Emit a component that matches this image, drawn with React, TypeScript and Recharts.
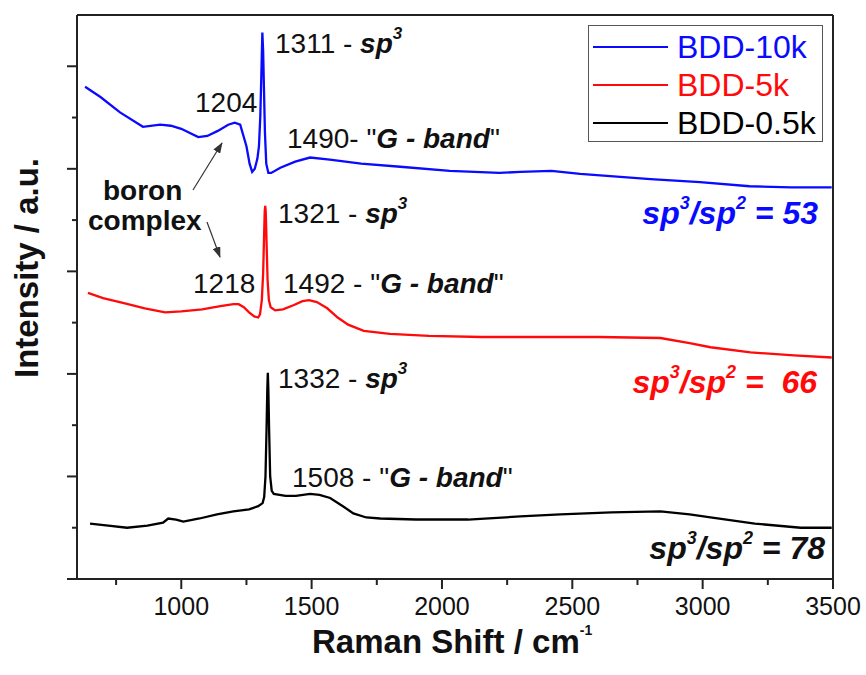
import React from 'react';
import { LineChart, Line, XAxis, YAxis, Legend, ReferenceLine, Customized } from 'recharts';

const FONT = '"Liberation Sans", Arial, Helvetica, sans-serif';
const AXIS = '#222';

// Raman shift (cm-1) and offset intensity (a.u.)
const bdd10kShift = [631, 690, 765, 853, 919, 960, 1000, 1065, 1100, 1140, 1180, 1205, 1226, 1250, 1262, 1272, 1282, 1292, 1298, 1303, 1307, 1311, 1314, 1317, 1321, 1326, 1334, 1345, 1380, 1437, 1494, 1570, 1690, 1840, 2030, 2220, 2300, 2420, 2530, 2800, 2990, 3180, 3340, 3495];
const bdd10kIntensity = [4.80, 4.70, 4.55, 4.41, 4.43, 4.42, 4.39, 4.31, 4.32, 4.37, 4.43, 4.45, 4.43, 4.22, 4.05, 3.97, 4.00, 4.10, 4.22, 4.50, 4.90, 5.33, 5.15, 4.80, 4.35, 4.05, 3.96, 3.96, 4.01, 4.07, 4.11, 4.09, 4.05, 4.02, 3.98, 3.96, 3.97, 3.98, 3.95, 3.90, 3.87, 3.83, 3.82, 3.82];

const bdd5kShift = [642, 700, 780, 860, 938, 1000, 1080, 1150, 1200, 1220, 1240, 1260, 1280, 1295, 1302, 1309, 1314, 1318, 1320, 1322, 1324, 1327, 1331, 1336, 1343, 1360, 1390, 1430, 1465, 1490, 1520, 1560, 1600, 1640, 1700, 1800, 1950, 2150, 2416, 2600, 2838, 2950, 3030, 3184, 3350, 3495];
const bdd5kIntensity = [2.79, 2.74, 2.69, 2.64, 2.60, 2.61, 2.63, 2.66, 2.68, 2.68, 2.65, 2.60, 2.56, 2.55, 2.58, 2.72, 2.98, 3.38, 3.58, 3.64, 3.58, 3.30, 2.92, 2.72, 2.65, 2.62, 2.63, 2.67, 2.71, 2.72, 2.70, 2.64, 2.55, 2.48, 2.42, 2.39, 2.37, 2.36, 2.36, 2.36, 2.35, 2.30, 2.26, 2.21, 2.18, 2.16];

const bdd05kShift = [650, 720, 792, 870, 930, 950, 980, 1008, 1070, 1137, 1200, 1260, 1295, 1312, 1318, 1323, 1327, 1330, 1332, 1334, 1337, 1341, 1347, 1355, 1400, 1440, 1494, 1530, 1571, 1620, 1660, 1710, 1763, 1900, 2100, 2300, 2454, 2650, 2838, 2950, 3030, 3200, 3376, 3495];
const bdd05kIntensity = [0.54, 0.52, 0.50, 0.52, 0.55, 0.59, 0.58, 0.56, 0.59, 0.63, 0.66, 0.68, 0.71, 0.74, 0.80, 1.00, 1.45, 1.85, 2.01, 1.85, 1.45, 1.00, 0.86, 0.83, 0.81, 0.81, 0.83, 0.82, 0.79, 0.71, 0.64, 0.60, 0.59, 0.58, 0.58, 0.61, 0.63, 0.65, 0.66, 0.63, 0.60, 0.54, 0.50, 0.50];

const xTicks = [750, 1000, 1250, 1500, 1750, 2000, 2250, 2500, 2750, 3000, 3250, 3500];
const yTicks = [0, 0.5, 1, 1.5, 2, 2.5, 3, 3.5, 4, 4.5, 5];

const toPoints = (xs: number[], ys: number[]) => xs.map((x, i) => ({ shift: x, intensity: ys[i] }));

const series = [
  { name: 'BDD-10k', color: '#0a0aff', data: toPoints(bdd10kShift, bdd10kIntensity) },
  { name: 'BDD-5k', color: '#ff0a0a', data: toPoints(bdd5kShift, bdd5kIntensity) },
  { name: 'BDD-0.5k', color: '#000000', data: toPoints(bdd05kShift, bdd05kIntensity) },
];

const XTick = (props: any) => {
  const { x, y, payload } = props;
  const major = payload.value % 500 === 0;
  return (
    <g>
      <line x1={x} y1={y} x2={x} y2={y + (major ? 10 : 6)} stroke={AXIS} strokeWidth={2} />
      {major && (
        <text x={x} y={y + 36} textAnchor="middle" fontSize={25} fontFamily={FONT} fill="#111">
          {payload.value}
        </text>
      )}
    </g>
  );
};

const YTick = (props: any) => {
  const { x, y, payload } = props;
  const major = payload.value % 1 === 0;
  return <line x1={x} y1={y} x2={x - (major ? 10 : 5)} y2={y} stroke={AXIS} strokeWidth={2} />;
};

const LegendBox = () => (
  <div style={{ border: '1px solid #555', background: '#fff', width: 235, height: 117, boxSizing: 'border-box', padding: '2px 0 0 4px' }}>
    {series.map((s) => (
      <div key={s.name} style={{ display: 'flex', alignItems: 'center', height: 38 }}>
        <svg width={75} height={10}>
          <line x1={0} y1={5} x2={75} y2={5} stroke={s.color} strokeWidth={2} />
        </svg>
        <span style={{ marginLeft: 9, color: s.color, fontSize: 32, fontFamily: FONT, lineHeight: '38px' }}>{s.name}</span>
      </div>
    ))}
  </div>
);

const bi = { fontWeight: 'bold', fontStyle: 'italic' } as const;

const Sp3 = ({ x, y, num }: { x: number; y: number; num: string }) => (
  <text x={x} y={y} fontSize={28} fill="#111">
    {num + ' - '}
    <tspan {...bi}>sp</tspan>
    <tspan {...bi} fontSize={17} dy={-14}>3</tspan>
  </text>
);

const GBand = ({ x, y, label }: { x: number; y: number; label: string }) => (
  <text x={x} y={y} fontSize={28} fill="#111">
    {label + ' "'}
    <tspan {...bi}>G - band</tspan>
    {'"'}
  </text>
);

const Ratio = ({ x, y, value, color }: { x: number; y: number; value: string; color: string }) => (
  <text x={x} y={y} textAnchor="end" fontSize={32} fill={color} {...bi} style={{ whiteSpace: 'pre' }}>
    sp<tspan fontSize={18} dy={-15}>3</tspan>
    <tspan dy={15}>/sp</tspan>
    <tspan fontSize={18} dy={-15}>2</tspan>
    <tspan dy={15}>{' = ' + value}</tspan>
  </text>
);

const Annotations = () => (
  <g fontFamily={FONT}>
    <defs>
      <marker id="arrowHead" markerWidth="11" markerHeight="8" refX="10" refY="4" orient="auto" markerUnits="userSpaceOnUse">
        <path d="M0,0 L11,4 L0,8 z" fill="#333" />
      </marker>
    </defs>
    <Sp3 x={275} y={53} num="1311" />
    <text x={195} y={112} fontSize={28} fill="#111">1204</text>
    <GBand x={287} y={148} label="1490-" />
    <Sp3 x={278} y={223} num="1321" />
    <text x={193} y={293} fontSize={28} fill="#111">1218</text>
    <GBand x={283} y={293} label="1492 -" />
    <Sp3 x={278} y={388} num="1332" />
    <GBand x={292} y={487} label="1508 -" />

    <text x={103} y={200} fontSize={28} fontWeight="bold" fill="#111">boron</text>
    <text x={88} y={230} fontSize={28} fontWeight="bold" fill="#111">complex</text>
    <line x1={193} y1={190} x2={222} y2={143} stroke="#333" strokeWidth={1.2} markerEnd="url(#arrowHead)" />
    <line x1={207} y1={222} x2={220} y2={257} stroke="#333" strokeWidth={1.2} markerEnd="url(#arrowHead)" />

    <Ratio x={818} y={224} value="53" color="#0a0aff" />
    <Ratio x={817} y={393} value=" 66" color="#ff0a0a" />
    <Ratio x={825} y={559} value="78" color="#111" />

    <text x={38} y={268} transform="rotate(-90, 38, 268)" textAnchor="middle" fontSize={33} fontWeight="bold" fill="#111">
      Intensity / a.u.
    </text>
    <text x={312} y={653} fontSize={33} fontWeight="bold" fill="#111">
      Raman Shift / cm<tspan fontSize={14} dy={-18}>-1</tspan>
    </text>
  </g>
);

export default function App() {
  return (
    <div style={{ position: 'absolute', left: 0, top: 0, width: 866, height: 675, background: '#fff' }}>
      <LineChart width={866} height={675} margin={{ top: 15, right: 33, bottom: 36, left: 37 }}>
        <XAxis
          type="number"
          dataKey="shift"
          domain={[600, 3500]}
          ticks={xTicks}
          allowDataOverflow
          height={60}
          tickSize={0}
          tickMargin={0}
          tickLine={false}
          tick={<XTick />}
          axisLine={{ stroke: AXIS, strokeWidth: 2 }}
          interval={0}
        />
        <YAxis
          type="number"
          domain={[0, 5.5]}
          ticks={yTicks}
          allowDataOverflow
          width={40}
          tickSize={0}
          tickMargin={0}
          tickLine={false}
          tick={<YTick />}
          axisLine={{ stroke: AXIS, strokeWidth: 2 }}
          interval={0}
        />
        <ReferenceLine x={3500} stroke={AXIS} strokeWidth={2} />
        <ReferenceLine y={5.5} stroke={AXIS} strokeWidth={2} />
        {series.map((s) => (
          <Line
            key={s.name}
            data={s.data}
            dataKey="intensity"
            name={s.name}
            type="linear"
            stroke={s.color}
            strokeWidth={2.3}
            dot={false}
            isAnimationActive={false}
          />
        ))}
        <Legend
          layout="vertical"
          align="center"
          verticalAlign="middle"
          content={<LegendBox />}
          wrapperStyle={{ left: 588, top: 25, width: 235, height: 117 }}
        />
        <Customized component={<Annotations />} />
      </LineChart>
    </div>
  );
}
